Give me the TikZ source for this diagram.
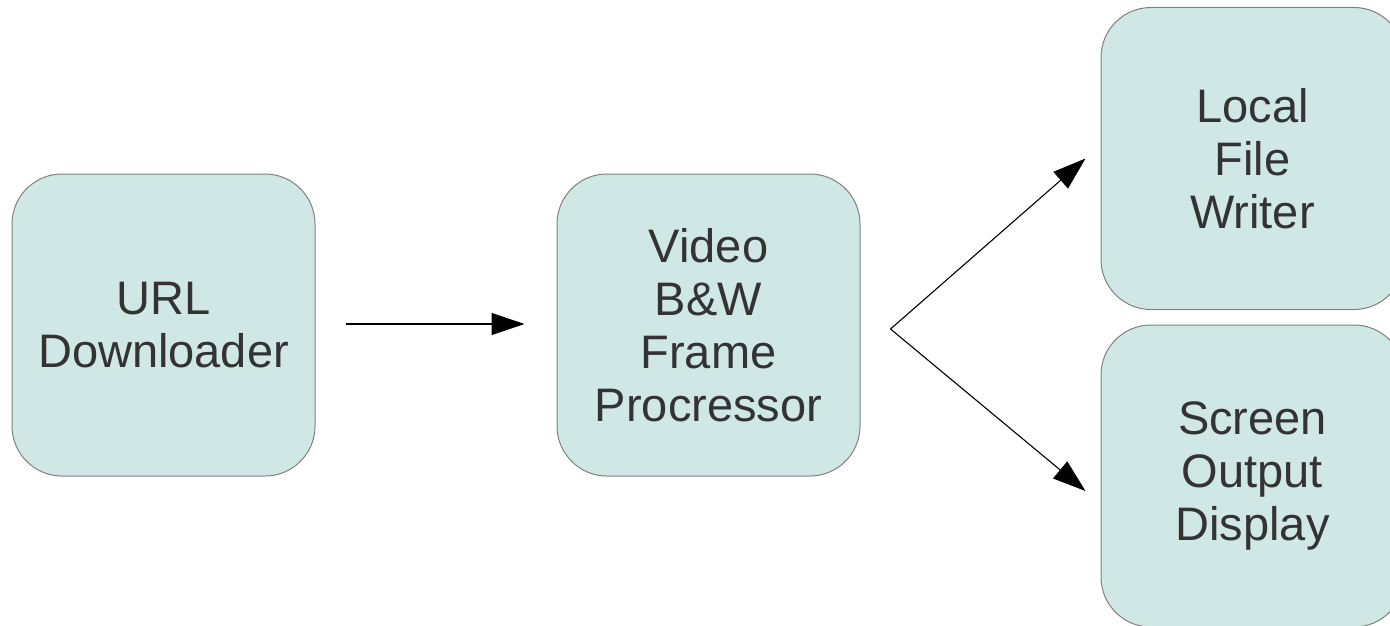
\documentclass[tikz,border=0pt]{standalone}
\usepackage{fontspec}
\setmainfont{Liberation Sans}
\usetikzlibrary{arrows.meta}
\definecolor{boxfill}{RGB}{207,231,229}
\definecolor{boxline}{RGB}{128,128,128}
\definecolor{txt}{RGB}{51,51,51}
\tikzset{
  procbox/.style={draw=boxline, line width=1pt, fill=boxfill, rounded corners=50pt,
    minimum width=303pt, minimum height=302pt, inner sep=0pt, align=center,
    text=txt, font=\fontsize{47}{53}\selectfont},
  flow/.style={draw=black, line width=1.1pt, -{Triangle[length=33pt,width=22pt]}}
}
\begin{document}
\begin{tikzpicture}[x=1pt,y=-1pt]
\useasboundingbox (0,0) rectangle (1390,626);
\clip (0,0) rectangle (1390,626);
\node[procbox] (url) at (163.5,325) {URL\\Downloader};
\node[procbox] (video) at (708.5,325) {Video\\B\&W\\Frame\\Procressor};
\node[procbox] (local) at (1252.5,158.5) {Local\\File\\Writer};
\node[procbox] (screen) at (1252.5,476) {Screen\\Output\\Display};
\coordinate (split) at ([xshift=30pt,yshift=-4pt]video.east);
\draw[flow] ([xshift=30pt,yshift=1pt]url.east) -- ([xshift=-32pt,yshift=1pt]video.west);
\draw[flow] (split) -- ([xshift=-15pt]local.west);
\draw[flow] (split) -- ([xshift=-15pt,yshift=-15pt]screen.west);
\end{tikzpicture}
\end{document}
